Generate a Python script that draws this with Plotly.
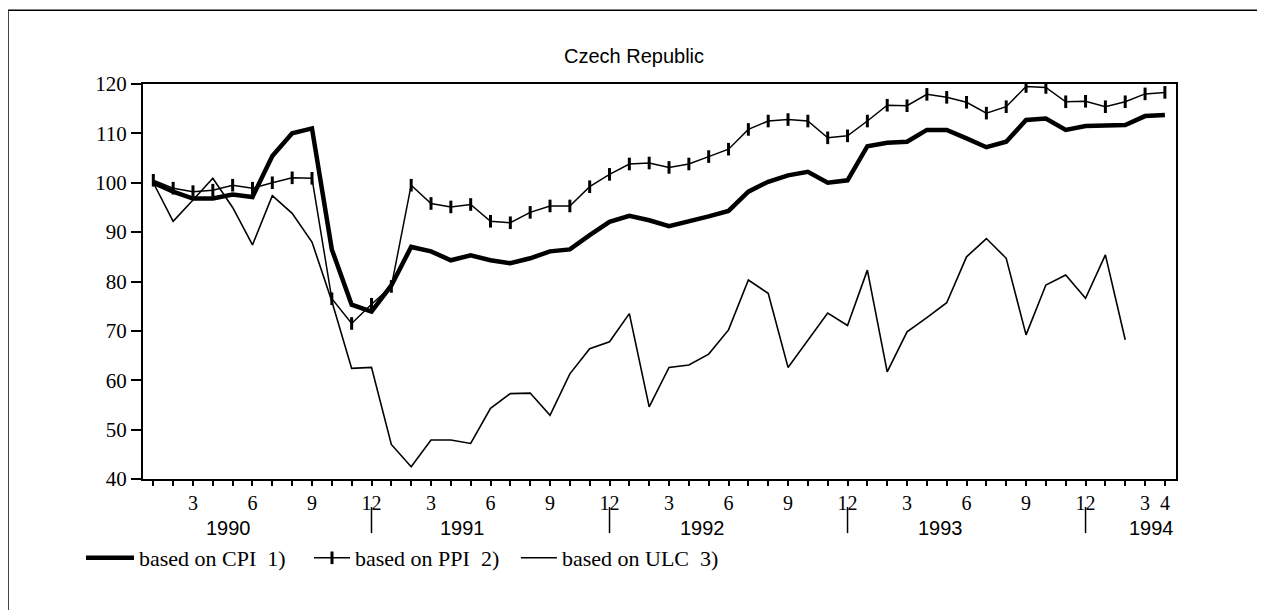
import plotly.graph_objects as go

# Month index 0 = Jan 1990 ... 51 = Apr 1994
months = list(range(52))

cpi = [100.0, 98.2, 96.8, 96.8, 97.6, 97.1, 105.4, 110.0, 111.0, 86.5,
       75.3, 73.9, 79.2, 87.0, 86.1, 84.3, 85.3, 84.3, 83.7, 84.7,
       86.1, 86.5, 89.4, 92.1, 93.3, 92.4, 91.2, 92.1, 93.2, 94.3,
       98.2, 100.2, 101.5, 102.2, 100.0, 100.5, 107.4, 108.1, 108.3, 110.7,
       110.7, 109.0, 107.2, 108.3, 112.7, 113.0, 110.7, 111.5, 111.7, 111.7,
       113.5, 113.7]

ppi = [100.5, 98.9, 98.2, 98.5, 99.5, 98.9, 100.0, 101.0, 100.9, 76.5,
       71.5, 75.4, 79.0, 99.5, 95.8, 95.1, 95.6, 92.2, 91.9, 94.0,
       95.3, 95.3, 99.2, 101.7, 103.8, 104.0, 103.1, 103.8, 105.3, 106.8,
       110.8, 112.5, 112.8, 112.5, 109.1, 109.5, 112.5, 115.7, 115.6, 117.9,
       117.3, 116.3, 114.1, 115.4, 119.5, 119.3, 116.4, 116.5, 115.4, 116.4,
       118.0, 118.3]

ulc = [100.0, 92.2, 96.5, 100.9, 95.0, 87.4, 97.4, 93.8, 88.0, 76.0,
       62.4, 62.6, 47.0, 42.5, 47.9, 47.9, 47.2, 54.3, 57.3, 57.4,
       52.9, 61.3, 66.4, 67.8, 73.5, 54.6, 62.6, 63.1, 65.3, 70.2,
       80.3, 77.6, 62.6, 68.1, 73.6, 71.1, 82.3, 61.7, 69.8, 72.7,
       75.7, 85.0, 88.7, 84.7, 69.2, 79.3, 81.3, 76.6, 85.4, 68.2]

month_labels = ["" if (m % 12 + 1) % 3 else str(m % 12 + 1) for m in months]
month_labels[51] = "4"
years = ["1990", "1991", "1992", "1993", "1994"]
year_pos = [3.8, 15.6, 27.7, 39.7, 50.3]
year_breaks = [11, 23, 35, 47]

series_names = ["based on CPI  1)", "based on PPI  2)", "based on ULC  3)"]

fig = go.Figure()
fig.add_trace(go.Scatter(x=months, y=cpi, mode="lines", name=series_names[0],
                         line=dict(color="black", width=4.5), legend="legend"))
fig.add_trace(go.Scatter(x=months, y=ppi, mode="lines+markers", name=series_names[1],
                         line=dict(color="black", width=1.5),
                         marker=dict(symbol="line-ns", size=9,
                                     line=dict(color="black", width=3)),
                         legend="legend2"))
fig.add_trace(go.Scatter(x=months[:len(ulc)], y=ulc, mode="lines", name=series_names[2],
                         line=dict(color="black", width=1.6), legend="legend3"))

serif = "Liberation Serif"
fig.update_xaxes(range=[-0.52, 51.56], tickmode="array", tickvals=months,
                 ticktext=month_labels, ticks="outside", ticklen=5, tickwidth=1.5,
                 tickcolor="black", showline=True, linecolor="black", linewidth=2,
                 mirror=True, showgrid=False, zeroline=False,
                 tickfont=dict(family=serif, size=20, color="black"))
fig.update_yaxes(range=[40, 120], tickvals=list(range(40, 121, 10)),
                 ticks="outside", ticklen=10, tickwidth=1.5, tickcolor="black",
                 showline=True, linecolor="black", linewidth=2, mirror=True,
                 showgrid=False, zeroline=False,
                 tickfont=dict(family=serif, size=21, color="black"))

shapes = []
for b in year_breaks:
    shapes.append(dict(type="line", xref="x", yref="paper", x0=b, x1=b,
                       y0=-0.071, y1=-0.137, line=dict(color="black", width=1.5)))
# outer frame
shapes.append(dict(type="line", xref="paper", yref="paper", x0=-0.1307, x1=1.0842,
                   y0=1.187, y1=1.187, line=dict(color="black", width=1.5)))
shapes.append(dict(type="line", xref="paper", yref="paper", x0=-0.1307, x1=-0.1307,
                   y0=1.187, y1=-0.37, line=dict(color="black", width=1.5)))
shapes.append(dict(type="line", xref="paper", yref="paper", x0=1.0842, x1=1.0842,
                   y0=1.187, y1=0.27, line=dict(color="black", width=1.5)))

annotations = []
for yr, xp in zip(years, year_pos):
    annotations.append(dict(x=xp, y=-0.124, xref="x", yref="paper", text=yr,
                            showarrow=False, yanchor="middle",
                            font=dict(family="Liberation Sans", size=20, color="black")))

legend_font = dict(family=serif, size=22, color="black")
def leg(x, iw):
    return dict(orientation="h", x=x, xanchor="left", y=-0.2, yanchor="middle",
                font=legend_font, bgcolor="rgba(0,0,0,0)", itemwidth=iw)

W, H = 1257, 602
fig.update_layout(
    width=W, height=H,
    margin=dict(l=135, r=89, t=76, b=131),
    paper_bgcolor="white", plot_bgcolor="white",
    title=dict(text="Czech Republic", x=626 / W, xanchor="center", y=1 - 48 / H,
               yanchor="middle", font=dict(family="Liberation Sans", size=20, color="black")),
    shapes=shapes, annotations=annotations,
    showlegend=True,
    legend=leg(-0.060, 48),
    legend2=leg(0.1607, 36),
    legend3=leg(0.361, 36),
)

fig.write_html("out.html")
